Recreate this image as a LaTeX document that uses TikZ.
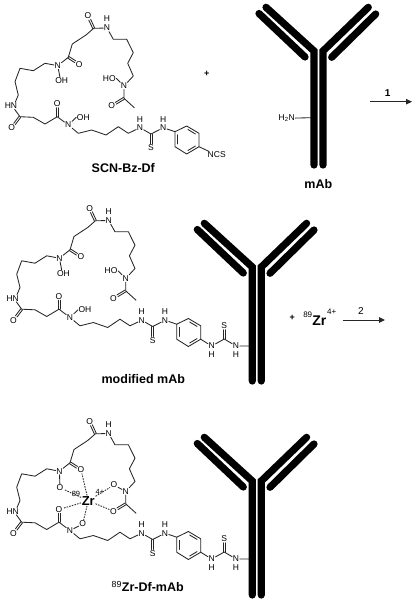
\documentclass[tikz,border=0pt]{standalone}
\usepackage{fontspec}
\setmainfont{Liberation Sans}
\usepackage{tikz}
\usetikzlibrary{arrows.meta,calc}

\tikzset{
	atom/.style={inner sep=0.5pt,font=\fontsize{8.5}{9}\selectfont},
	title/.style={inner sep=0pt,font=\fontsize{12.5}{14}\selectfont\bfseries},
	bond/.style={line width=0.85pt,line join=round,line cap=round,black!85},
	coord/.style={line width=0.9pt,dash pattern=on 1.6pt off 1.1pt,black!80},
	chain/.style={line width=7.2pt,line join=miter,line cap=round,black},
	react/.style={line width=0.9pt,black!85,-{Triangle[length=6pt,width=5.5pt]}}
}

% two parallel lines between two atoms
\newcommand{\dblbond}[2]{
	\path (#1) -- (#2) coordinate[pos=0] (p) coordinate[pos=1] (q);
	\draw[bond] ($(p)!1pt!90:(q)$) -- ($(q)!1pt!-90:(p)$);
	\draw[bond] ($(p)!1pt!-90:(q)$) -- ($(q)!1pt!90:(p)$);
}

% backbone of the chelator, without the N-O groups
\newcommand{\chelator}{
	\node[atom] (o1) at (88,16) {O};
	\coordinate (c1) at (93.7,28.3);
	\node[atom] (n1) at (107,28) {N};
	\node[atom] (h1) at (107,19) {H};
	\coordinate (c2) at (86,35);
	\coordinate (c3) at (72.3,44);
	\coordinate (c4) at (68.3,57.3);
	\node[atom] (o2) at (79.3,64.3) {O};
	\node[atom] (n2) at (57.7,65.7) {N};
	\coordinate (c5) at (45,63.3);
	\coordinate (c6) at (33.3,70.7);
	\coordinate (c7) at (20,68.3);
	\coordinate (c8) at (15,81.7);
	\coordinate (c9) at (18.3,95);
	\node[atom] (hn) at (11,105.7) {HN};
	\coordinate (c10) at (20,116.7);
	\node[atom] (o3) at (11.7,127.7) {O};
	\coordinate (c11) at (33.3,117.3);
	\coordinate (c12) at (45,124);
	\coordinate (c13) at (57.3,116.7);
	\node[atom] (o4) at (57.3,104) {O};
	\node[atom] (n3) at (68.3,125) {N};
	\coordinate (c14) at (78.3,133.3);
	\coordinate (c15) at (91.7,130);
	\coordinate (c16) at (106,135);
	\coordinate (c17) at (118.3,126.7);
	\coordinate (c18) at (128.3,133.3);
	\node[atom] (n4) at (140,127.7) {N};
	\node[atom] (h4) at (140,119.3) {H};
	\coordinate (c19) at (151,134);
	\node[atom] (s1) at (151,147.7) {S};
	\node[atom] (n5) at (163.3,127.7) {N};
	\node[atom] (h5) at (163.3,119.3) {H};
	\coordinate (r1) at (175,131.7);
	\coordinate (r2) at (186.7,126);
	\coordinate (r3) at (199,133.3);
	\coordinate (r4) at (199,146.7);
	\coordinate (r5) at (186.7,154);
	\coordinate (r6) at (175,146.7);
	\coordinate (rc) at (187,140);
	\coordinate (c20) at (113.3,39.3);
	\coordinate (c21) at (126.7,39.3);
	\coordinate (c22) at (133.3,52.7);
	\coordinate (c23) at (127.7,63.3);
	\coordinate (c24) at (133.3,76);
	\node[atom] (n6) at (124,86) {N};
	\coordinate (c25) at (124,98.3);
	\node[atom] (o5) at (111.7,105.7) {O};
	\coordinate (c26) at (134.3,107.7);
	\dblbond{c1}{o1}
	\draw[bond] (n1) -- (c1) -- (c2) -- (c3) -- (c4);
	\dblbond{c4}{o2}
	\draw[bond] (c4) -- (n2) -- (c5) -- (c6) -- (c7) -- (c8) -- (c9) -- (hn.40);
	\draw[bond] (hn.-45) -- (c10) -- (c11) -- (c12) -- (c13) -- (n3) -- (c14) -- (c15) -- (c16) -- (c17) -- (c18) -- (n4) -- (c19) -- (n5) -- (r1);
	\dblbond{c10}{o3}
	\dblbond{c13}{o4}
	\dblbond{c19}{s1}
	\draw[bond] (r1) -- (r2) -- (r3) -- (r4) -- (r5) -- (r6) -- cycle;
	\foreach \a/\b in {r2/r3,r4/r5,r6/r1}
		\draw[bond] ($(\a)!.2!(rc)!.12!($(\b)!.2!(rc)$)$) -- ($(\b)!.2!(rc)!.12!($(\a)!.2!(rc)$)$);
	\draw[bond] (n1) -- (c20) -- (c21) -- (c22) -- (c23) -- (c24) -- (n6) -- (c25) -- (c26);
	\dblbond{c25}{o5}
}

% the three free N-OH groups
\newcommand{\hydroxyls}{
	\node[atom] (oh2) at (61.7,81) {OH};
	\node[atom] (oh3) at (83.3,117.3) {OH};
	\node[atom] (ho6) at (109.3,78.3) {HO};
	\draw[bond] (n2) -- (oh2.115);
	\draw[bond] (n3) -- (oh3.west);
	\draw[bond] (n6) -- (ho6.east);
}

% thiourea link onto the antibody
\newcommand{\linker}{
	\node[atom] (n7) at (210,153.5) {N};
	\node[atom] (h7) at (210,162) {H};
	\coordinate (c27) at (222.6,146.5);
	\node[atom] (s2) at (222.6,133.5) {S};
	\node[atom] (n8) at (234.3,153.5) {N};
	\node[atom] (h8) at (234.3,162) {H};
	\coordinate (e1) at (248,153.5);
	\draw[bond] (r4) -- (n7) -- (c27) -- (n8) -- (e1);
	\dblbond{c27}{s2}
}

\newcommand{\antibody}{
	\coordinate (a1) at (259,13.5);
	\coordinate (a2) at (305,57);
	\coordinate (a3) at (266,7.3);
	\coordinate (a4) at (314,51);
	\coordinate (a5) at (314,165);
	\coordinate (a6) at (368.3,7.3);
	\coordinate (a7) at (323,51);
	\coordinate (a8) at (323,165);
	\coordinate (a9) at (375.7,14);
	\coordinate (a10) at (331.7,57.3);
	\draw[chain] (a1) -- (a2);
	\draw[chain] (a3) -- (a4) -- (a5);
	\draw[chain] (a6) -- (a7) -- (a8);
	\draw[chain] (a9) -- (a10);
}

\begin{document}
\begin{tikzpicture}[x=1pt,y=-1pt]
	\useasboundingbox (0,0) rectangle (415,600);
	
	% top row
	\begin{scope}[name prefix=sm-]
		\chelator
		\hydroxyls
		\node[atom] (ncs) at (216.7,155) {NCS};
		\draw[bond] (r4) -- (ncs.155);
	\end{scope}
	\node[title] (smlabel) at (123.3,167.7) {SCN-Bz-Df};
	\node[atom,font=\fontsize{9}{10}\selectfont\bfseries] (plusa) at (206.7,74) {+};
	\begin{scope}[name prefix=ab-]
		\antibody
	\end{scope}
	\node[atom] (nh2) at (286.7,118.3) {H\textsubscript{2}N};
	\coordinate (nh2e) at (310.5,117.7);
	\draw[bond] (nh2) -- (nh2e);
	\node[title] (ablabel) at (318.3,184) {mAb};
	\coordinate (ra1) at (370,101.7);
	\coordinate (ra2) at (412,101.7);
	\draw[react] (ra1) -- (ra2);
	\node[atom,font=\fontsize{10}{12}\selectfont\bfseries] (stepa) at (387.7,92.7) {1};
	
	% middle row
	\begin{scope}[shift={(1.7,192.5)},name prefix=md-]
		\chelator
		\hydroxyls
		\linker
	\end{scope}
	\begin{scope}[shift={(-61.7,216)},name prefix=mb-]
		\antibody
	\end{scope}
	\node[title] (mdlabel) at (143.3,379) {modified mAb};
	\node[atom,font=\fontsize{9}{10}\selectfont\bfseries] (plusb) at (292.3,318) {+};
	\node[atom,font=\fontsize{8}{9}\selectfont] (ziso) at (307.7,314.3) {89};
	\node[atom,font=\fontsize{14}{16}\selectfont\bfseries] (zr) at (319.3,320.7) {Zr};
	\node[atom,font=\fontsize{8}{9}\selectfont] (zch) at (331.7,312) {4+};
	\coordinate (rb1) at (342.7,320);
	\coordinate (rb2) at (385,320);
	\draw[react] (rb1) -- (rb2);
	\node[atom,font=\fontsize{10}{12}\selectfont] (stepb) at (361,310.7) {2};
	
	% bottom row
	\begin{scope}[shift={(1.7,405.5)},name prefix=zc-]
		\chelator
		\linker
		\node[atom,font=\fontsize{13}{15}\selectfont\bfseries] (zr) at (86.6,95.2) {Zr};
		\node[atom,font=\fontsize{7.5}{9}\selectfont] (ziso) at (74.3,88.8) {89};
		\node[atom,font=\fontsize{7.5}{9}\selectfont] (zch) at (98.3,86.2) {4+};
		\node[atom] (o7) at (58.3,82.2) {O};
		\node[atom] (o8) at (112.3,79.5) {O};
		\node[atom] (o9) at (81,118.5) {O};
		\draw[bond] (n2) -- (o7);
		\draw[bond] (n6) -- (o8);
		\draw[bond] (n3) -- (o9);
		\foreach \o in {o2,o4,o5,o7,o8,o9}
			\draw[coord] (zr) -- (\o);
	\end{scope}
	\begin{scope}[shift={(-61.7,430)},name prefix=zb-]
		\antibody
	\end{scope}
	\node[title] (zclabel) at (147.7,586.7) {\textsuperscript{\mdseries 89}Zr-Df-mAb};
	
\end{tikzpicture}
\end{document}
